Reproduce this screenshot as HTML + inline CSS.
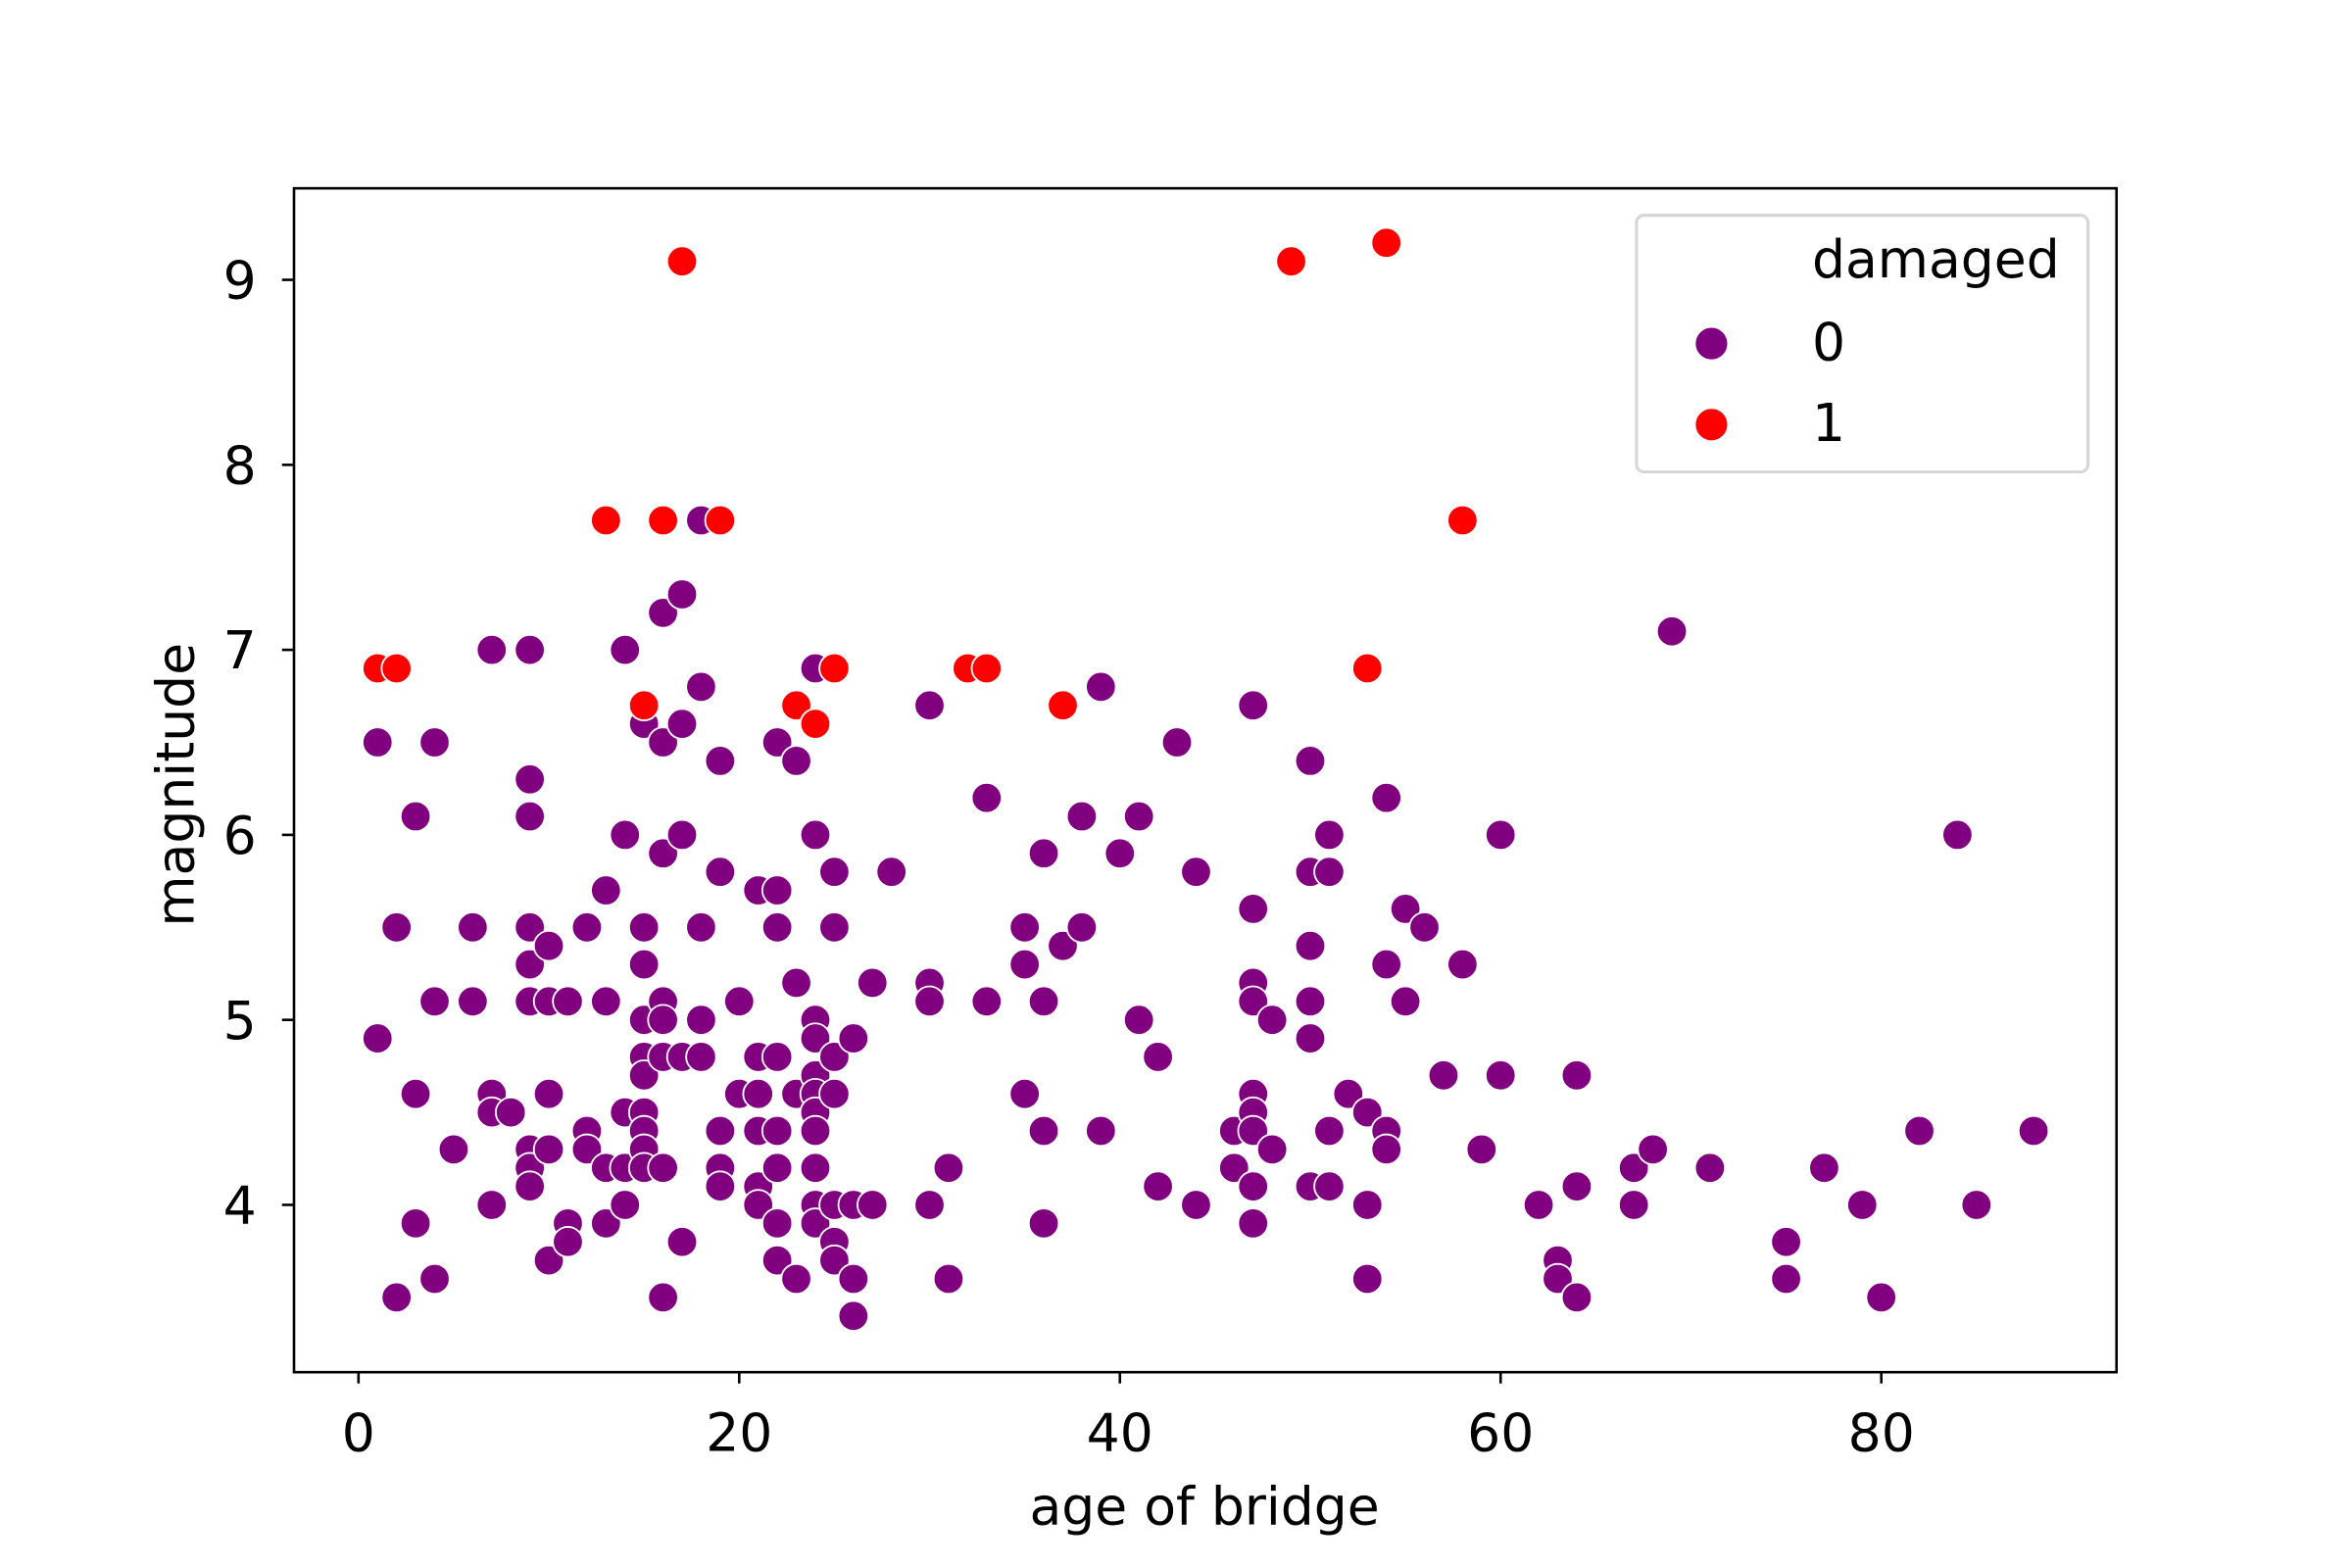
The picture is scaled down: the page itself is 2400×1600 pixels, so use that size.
<!DOCTYPE html>
<html><head><meta charset="utf-8"><style>
html,body{margin:0;padding:0;background:#fff}
svg{display:block}
text{font-family:"DejaVu Sans","Liberation Sans",sans-serif;fill:#000}
</style></head><body>
<svg id="chart" width="2400" height="1600" viewBox="0 0 1568 1045" preserveAspectRatio="none" xmlns="http://www.w3.org/2000/svg">
<rect x="0" y="0" width="1568" height="1045" fill="#fff"/>
<g id="points"></g>
<rect x="196" y="125.5" width="1215" height="789" fill="none" stroke="#000" stroke-width="1.7"/>
<g id="xticks"></g>
<g id="yticks"></g>
<text x="803" y="1016" font-size="35" text-anchor="middle">age of bridge</text>
<text x="129" y="523" font-size="35" text-anchor="middle" transform="rotate(-90 129 523)">magnitude</text>
<g>
<rect x="1091" y="143.5" width="301" height="171" rx="5" fill="#fff" fill-opacity="0.8" stroke="#d6d6d6" stroke-width="2"/>
<text x="1208" y="185" font-size="35">damaged</text>
<circle cx="1141" cy="229" r="11" fill="#800080" stroke="#fff" stroke-width="1"/>
<text x="1208" y="240" font-size="35">0</text>
<circle cx="1141" cy="283" r="11" fill="#ff0000" stroke="#fff" stroke-width="1"/>
<text x="1208" y="294" font-size="35">1</text>
</g>
</svg>
<script>
const ages0=[1,1,2,2,3,3,3,4,4,4,5,6,6,7,7,7,7,8,9,9,9,9,9,9,9,9,9,10,10,10,10,10,11,11,11,12,12,12,13,13,13,13,14,14,14,14,14,15,15,15,15,15,15,15,15,15,15,16,16,16,16,16,16,16,16,17,17,17,17,17,18,18,18,18,18,19,19,19,19,19,20,20,21,21,21,21,21,21,22,22,22,22,22,22,22,22,23,23,23,23,24,24,24,24,24,24,24,24,24,24,24,25,25,25,25,25,25,25,26,26,26,26,27,27,28,30,30,30,30,31,31,33,33,35,35,35,36,36,36,36,37,38,38,39,39,40,41,41,42,42,43,44,44,46,46,47,47,47,47,47,47,47,47,47,48,48,50,50,50,50,50,50,51,51,51,51,52,53,53,53,54,54,54,54,55,55,56,57,58,59,60,60,62,63,63,64,64,64,67,67,68,69,71,75,75,77,79,80,82,84,85,88];
const mags0=[6.5,4.9,5.5,3.5,6.1,4.6,3.9,6.5,5.1,3.6,4.3,5.5,5.1,7.0,4.6,4.5,4.0,4.5,7.0,6.3,6.1,5.5,5.3,5.1,4.3,4.2,4.1,5.4,5.1,4.6,4.3,3.7,5.1,3.9,3.8,5.5,4.4,4.3,5.7,5.1,4.2,3.9,7.0,6.0,4.5,4.2,4.0,6.6,5.5,5.3,5.0,4.8,4.7,4.5,4.4,4.3,4.2,7.2,6.5,5.9,5.1,5.0,4.8,4.2,3.5,7.3,6.6,6.0,4.8,3.8,7.7,6.8,5.5,5.0,4.8,6.4,5.8,4.4,4.2,4.1,5.1,4.6,5.7,4.8,4.6,4.4,4.1,4.0,6.5,5.7,5.5,4.8,4.4,4.2,3.9,3.7,6.4,5.2,4.6,3.6,6.9,6.0,5.0,4.9,4.7,4.6,4.5,4.4,4.2,4.0,3.9,5.8,5.5,4.8,4.6,4.0,3.8,3.7,4.9,4.0,3.6,3.4,5.2,4.0,5.8,6.7,5.2,5.1,4.0,4.2,3.6,6.2,5.1,5.5,5.3,4.6,5.9,5.1,4.4,3.9,5.4,6.1,5.5,6.8,4.4,5.9,6.1,5.0,4.8,4.1,6.5,5.8,4.0,4.4,4.2,6.7,5.6,5.2,5.1,4.6,4.5,4.4,4.1,3.9,5.0,4.3,6.4,5.8,5.4,5.1,4.9,4.1,6.0,5.8,4.4,4.1,4.6,4.5,4.0,3.6,6.2,5.3,4.4,4.3,5.6,5.1,5.5,4.7,5.3,4.3,6.0,4.7,4.0,3.7,3.6,4.7,4.1,3.5,4.2,4.0,4.3,7.1,4.2,3.8,3.6,4.2,4.0,3.5,4.4,6.0,4.0,4.4];
const ages1=[1,2,13,16,19,17,15,23,24,25,32,33,37,49,54,58,53];
const mags1=[6.9,6.9,7.7,7.7,7.7,9.1,6.7,6.7,6.6,6.9,6.9,6.9,6.7,9.1,9.2,7.7,6.9];
const xTickVals=[0,20,40,60,80];
const yTickVals=[4,5,6,7,8,9];

const NS='http://www.w3.org/2000/svg';
function xs(v){return 239+v*12.69;}
function ys(v){return 803-(v-4)*123.3;}
const pg=document.getElementById('points');
function drawSeries(ages,mags,color,name){
  for(let i=0;i<ages.length;i++){
    const c=document.createElementNS(NS,'circle');
    c.setAttribute('cx',xs(ages[i]));c.setAttribute('cy',ys(mags[i]));
    c.setAttribute('r',10);c.setAttribute('fill',color);
    c.setAttribute('stroke','#fff');c.setAttribute('stroke-width',1.2);
    
    
    pg.appendChild(c);
  }
}
drawSeries(ages0,mags0,'#800080','point-undamaged');
drawSeries(ages1,mags1,'#ff0000','point-damaged');
const xg=document.getElementById('xticks');
xTickVals.forEach(v=>{
  const l=document.createElementNS(NS,'line');
  l.setAttribute('x1',xs(v));l.setAttribute('x2',xs(v));l.setAttribute('y1',914);l.setAttribute('y2',922);
  l.setAttribute('stroke','#000');l.setAttribute('stroke-width',1.7);
  
  
  xg.appendChild(l);
  const t=document.createElementNS(NS,'text');
  t.setAttribute('x',xs(v));t.setAttribute('y',967);t.setAttribute('font-size',35);t.setAttribute('text-anchor','middle');
  t.textContent=v;
  
  
  xg.appendChild(t);
});
const yg=document.getElementById('yticks');
yTickVals.forEach(v=>{
  const l=document.createElementNS(NS,'line');
  l.setAttribute('x1',188);l.setAttribute('x2',196);l.setAttribute('y1',ys(v));l.setAttribute('y2',ys(v));
  l.setAttribute('stroke','#000');l.setAttribute('stroke-width',1.7);
  
  
  yg.appendChild(l);
  const t=document.createElementNS(NS,'text');
  t.setAttribute('x',171);t.setAttribute('y',ys(v)+12.5);t.setAttribute('font-size',35);t.setAttribute('text-anchor','end');
  t.textContent=v;
  
  
  yg.appendChild(t);
});
</script>
</body></html>
